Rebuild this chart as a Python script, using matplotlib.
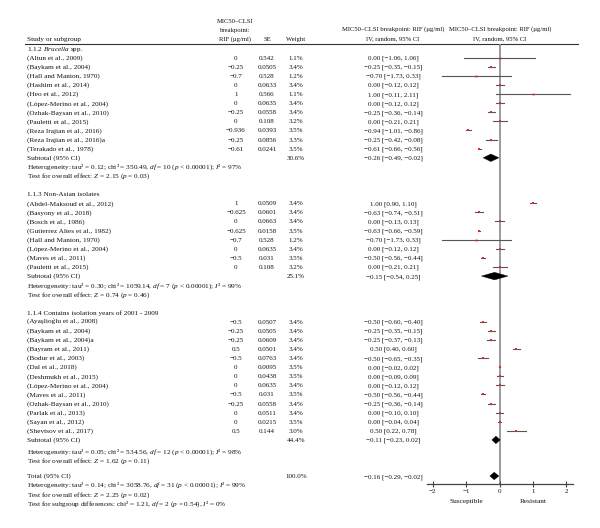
import matplotlib
matplotlib.use('Agg')
import matplotlib.pyplot as plt
from matplotlib.patches import Polygon
from decimal import Decimal, ROUND_HALF_UP

plt.rcParams['font.family'] = ['Liberation Serif', 'DejaVu Serif']
plt.rcParams['mathtext.fontset'] = 'custom'
plt.rcParams['mathtext.rm'] = 'Liberation Serif'
plt.rcParams['mathtext.it'] = 'Liberation Serif:italic'

# ---------------- data ----------------
g1_title = "1.1.2 $Brucella$ spp."
g1_studies = ["(Altun et al., 2009)", "(Baykam et al., 2004)", "(Hall and Manion, 1970)",
              "(Hashim et al., 2014)", "(Heo et al., 2012)", "(López-Merino et al., 2004)",
              "(Ozhak-Baysan et al., 2010)", "(Pauletti et al., 2015)", "(Reza Irajian et al., 2016)",
              "(Reza Irajian et al., 2016)a", "(Terakado et al., 1978)"]
g1_mic = [0, -0.25, -0.7, 0, 1, 0, -0.25, 0, -0.936, -0.25, -0.61]
g1_se = [0.542, 0.0505, 0.528, 0.0633, 0.566, 0.0635, 0.0558, 0.108, 0.0393, 0.0856, 0.0241]
g1_weight = [1.1, 3.4, 1.2, 3.4, 1.1, 3.4, 3.4, 3.2, 3.5, 3.3, 3.5]
g1_lo = [-1.06, -0.35, -1.73, -0.12, -0.11, -0.12, -0.36, -0.21, -1.01, -0.42, -0.66]
g1_hi = [1.06, -0.15, 0.33, 0.12, 2.11, 0.12, -0.14, 0.21, -0.86, -0.08, -0.56]
g1_sub = [-0.26, -0.49, -0.02]
g1_sub_weight = 30.6
g1_het = "Heterogeneity: tau² = 0.12; chi² = 350.49, $df$ = 10 ($p$ < 0.00001); $I$² = 97%"
g1_test = "Test for overall effect: $Z$ = 2.15 ($p$ = 0.03)"

g2_title = "1.1.3 Non-Asian isolates"
g2_studies = ["(Abdel-Maksoud et al., 2012)", "(Basyony et al., 2018)", "(Bosch et al., 1986)",
              "(Gutierrez Altes et al., 1982)", "(Hall and Manion, 1970)", "(López-Merino et al., 2004)",
              "(Maves et al., 2011)", "(Pauletti et al., 2015)"]
g2_mic = [1, -0.625, 0, -0.625, -0.7, 0, -0.5, 0]
g2_se = [0.0509, 0.0601, 0.0663, 0.0158, 0.528, 0.0635, 0.031, 0.108]
g2_weight = [3.4, 3.4, 3.4, 3.5, 1.2, 3.4, 3.5, 3.2]
g2_lo = [0.90, -0.74, -0.13, -0.66, -1.73, -0.12, -0.56, -0.21]
g2_hi = [1.10, -0.51, 0.13, -0.59, 0.33, 0.12, -0.44, 0.21]
g2_sub = [-0.15, -0.54, 0.25]
g2_sub_weight = 25.1
g2_het = "Heterogeneity: tau² = 0.30; chi² = 1059.14, $df$ = 7 ($p$ < 0.00001); $I$² = 99%"
g2_test = "Test for overall effect: $Z$ = 0.74 ($p$ = 0.46)"

g3_title = "1.1.4 Contains isolation years of 2001 - 2009"
g3_studies = ["(Ayaşlioğlu et al., 2008)", "(Baykam et al., 2004)", "(Baykam et al., 2004)a",
              "(Bayram et al., 2011)", "(Bodur et al., 2003)", "(Dal et al., 2018)",
              "(Deshmukh et al., 2015)", "(López-Merino et al., 2004)", "(Maves et al., 2011)",
              "(Ozhak-Baysan et al., 2010)", "(Parlak et al., 2013)", "(Sayan et al., 2012)",
              "(Shevtsov et al., 2017)"]
g3_mic = [-0.5, -0.25, -0.25, 0.5, -0.5, 0, 0, 0, -0.5, -0.25, 0, 0, 0.5]
g3_se = [0.0507, 0.0505, 0.0609, 0.0501, 0.0763, 0.0095, 0.0438, 0.0635, 0.031, 0.0558, 0.0511, 0.0215, 0.144]
g3_weight = [3.4, 3.4, 3.4, 3.4, 3.4, 3.5, 3.5, 3.4, 3.5, 3.4, 3.4, 3.5, 3.0]
g3_lo = [-0.60, -0.35, -0.37, 0.40, -0.65, -0.02, -0.09, -0.12, -0.56, -0.36, -0.10, -0.04, 0.22]
g3_hi = [-0.40, -0.15, -0.13, 0.60, -0.35, 0.02, 0.09, 0.12, -0.44, -0.14, 0.10, 0.04, 0.78]
g3_sub = [-0.11, -0.23, 0.02]
g3_sub_weight = 44.4
g3_het = "Heterogeneity: tau² = 0.05; chi² = 534.56, $df$ = 12 ($p$ < 0.00001); $I$² = 98%"
g3_test = "Test for overall effect: $Z$ = 1.62 ($p$ = 0.11)"

total = [-0.16, -0.29, -0.02]
total_weight = 100.0
total_het = "Heterogeneity: tau² = 0.14; chi² = 3058.76, $df$ = 31 ($p$ < 0.00001); $I$² = 99%"
total_test = "Test for overall effect: $Z$ = 2.25 ($p$ = 0.02)"
total_subgroup = "Test for subgroup differences: chi² = 1.21, $df$ = 2 ($p$ = 0.54), $I$² = 0%"

xticks = [-2, -1, 0, 1, 2]
xticklabels = ["−2", "−1", "0", "1", "2"]

# ---------------- helpers ----------------
def r2(v):
    s = str(Decimal(str(v)).quantize(Decimal('0.01'), rounding=ROUND_HALF_UP))
    return s.replace('-', '−')

def g(v):
    return f"{v:g}".replace('-', '−')

def ci_text(e, lo, hi):
    return f"{r2(e)} [{r2(lo)}, {r2(hi)}]"

W, H = 600, 528
fig = plt.figure(figsize=(W / 100, H / 100), dpi=100)
ax = fig.add_axes([0, 0, 1, 1])
ax.set_xlim(0, W)
ax.set_ylim(H, 0)
ax.axis('off')

FS = 5.2      # running text
FSN = 5.0     # numeric columns
FSH = 4.75    # right-hand headers
TC = '#111111'
X_NAME = 27
X_MIC = 236
X_SE = 267
X_W = 296
X_CI = 393
BL = 2.0  # baseline offset from row centre (px)

def txt(x, y, s, ha='left', fs=FS):
    ax.text(x, y + BL, s, ha=ha, va='baseline', fontsize=fs, color=TC)

# forest axes: pixel x 427.3..572.7, pixel y 44..484.3
AX_L, AX_R = 427.3, 572.7
AX_T, AX_B = 44.0, 484.3
fax = fig.add_axes([AX_L / W, 1 - AX_B / H, (AX_R - AX_L) / W, (AX_B - AX_T) / H])
fax.set_xlim(-2.163, 2.19)
fax.set_ylim(AX_B, AX_T)
fax.patch.set_alpha(0)
for s in ['top', 'left', 'right']:
    fax.spines[s].set_visible(False)
fax.spines['bottom'].set_color('#444444')
fax.spines['bottom'].set_linewidth(0.9)
fax.set_yticks([])
fax.set_xticks(xticks)
fax.set_xticklabels(xticklabels, fontsize=FSN, color=TC)
fax.tick_params(axis='x', direction='inout', length=4, width=0.8, color='#444444', pad=1.5)
fax.axvline(0, color='#8a8a8a', lw=1.2, zorder=1)
fax.text(-1, 502, "Susceptible", ha='center', va='center', fontsize=FS, color=TC, clip_on=False)
fax.text(1, 502, "Resistant", ha='center', va='center', fontsize=FS, color=TC, clip_on=False)

# headers
txt(X_NAME, 39, "Study or subgroup")
txt(X_MIC - 1, 21, "MIC50–CLSI", ha='center', fs=FSH)
txt(X_MIC - 1, 30, "breakpoint:", ha='center', fs=FSH)
txt(X_MIC - 1, 39, "RIF (µg/ml)", ha='center', fs=FSH)
txt(X_SE, 39, "SE", ha='center', fs=FSH)
txt(X_W, 39, "Weight", ha='center', fs=FSH)
for xc in (X_CI, 500):
    txt(xc, 29, "MIC50–CLSI breakpoint: RIF (µg/ml)", ha='center', fs=FSH)
    txt(xc, 38, "IV, random, 95% CI", ha='center', fs=FSH)
ax.plot([25, 578], [44.3, 44.3], color='#333333', lw=0.8)

PITCH = 9.1
RED = '#e3261f'
CIC = '#555555'

def diamond(y, e, lo, hi, h=7.5):
    poly = Polygon([(lo, y), (e, y - h / 2), (hi, y), (e, y + h / 2)], closed=True,
                   facecolor='black', edgecolor='black', lw=0.3, zorder=4, clip_on=False)
    fax.add_patch(poly)

def group(y, title, studies, mic, se, wt, lo, hi, sub, subw, het, test, het_gap=PITCH):
    txt(X_NAME, y, title)
    for i in range(len(studies)):
        y += PITCH
        txt(X_NAME, y, studies[i])
        txt(X_MIC, y, g(mic[i]), ha='center', fs=FSN)
        txt(X_SE, y, g(se[i]), ha='center', fs=FSN)
        txt(X_W, y, f"{wt[i]:.1f}%", ha='center', fs=FSN)
        txt(X_CI, y, ci_text(mic[i], lo[i], hi[i]), ha='center', fs=FSN)
        fax.plot([lo[i], hi[i]], [y, y], color=CIC, lw=0.8, zorder=2, clip_on=False)
        fax.plot([mic[i]], [y], marker='s', ms=1.2 + 0.1 * wt[i], color=RED, mew=0, zorder=3)
    y += PITCH
    txt(X_NAME, y, "Subtotal (95% CI)")
    txt(X_W, y, f"{subw:.1f}%", ha='center', fs=FSN)
    txt(X_CI, y, ci_text(*sub), ha='center', fs=FSN)
    diamond(y, *sub)
    y += het_gap
    txt(X_NAME, y, het)
    y += PITCH
    txt(X_NAME, y, test)
    return y

y = 48.6
y = group(y, g1_title, g1_studies, g1_mic, g1_se, g1_weight, g1_lo, g1_hi, g1_sub, g1_sub_weight, g1_het, g1_test)
y += 2 * PITCH
y = group(y, g2_title, g2_studies, g2_mic, g2_se, g2_weight, g2_lo, g2_hi, g2_sub, g2_sub_weight, g2_het, g2_test)
y += 2 * PITCH
y = group(y, g3_title, g3_studies, g3_mic, g3_se, g3_weight, g3_lo, g3_hi, g3_sub, g3_sub_weight, g3_het, g3_test,
          het_gap=11.5)
y += 15.5
txt(X_NAME, y, "Total (95% CI)")
txt(X_W, y, f"{total_weight:.1f}%", ha='center', fs=FSN)
txt(X_CI, y, ci_text(*total), ha='center', fs=FSN)
diamond(y, *total)
y += PITCH
txt(X_NAME, y, total_het)
y += PITCH
txt(X_NAME, y, total_test)
y += PITCH
txt(X_NAME, y, total_subgroup)

fig.savefig("out.png", dpi=100)
